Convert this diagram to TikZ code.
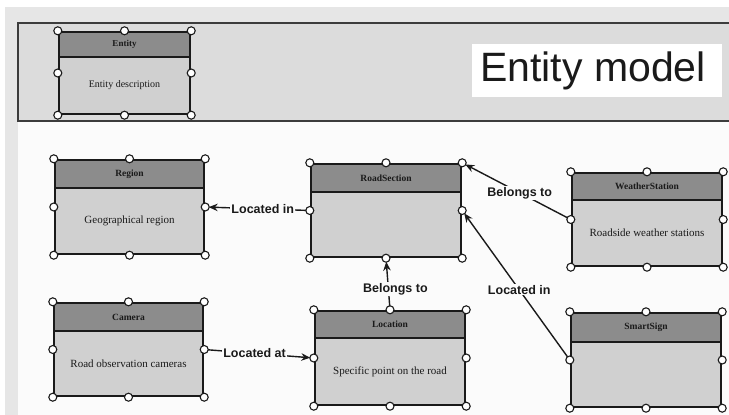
\documentclass[tikz,border=0pt]{standalone}
\usepackage{fontspec}
\setmainfont{Liberation Serif}
\setsansfont{Liberation Sans}
\usetikzlibrary{arrows.meta,fit}
\definecolor{outergray}{HTML}{E6E6E6}
\definecolor{hdrband}{HTML}{DCDCDC}
\definecolor{hdrc}{HTML}{8C8C8C}
\definecolor{bodyc}{HTML}{D0D0D0}
\definecolor{inkc}{HTML}{1A1A1A}
\definecolor{canvasc}{HTML}{FBFBFB}
\tikzset{
  boxline/.style={draw=inkc, line width=2.4pt},
  sepline/.style={draw=inkc, line width=2.2pt},
  handle/.style={draw=inkc, fill=white, line width=1.1pt},
  titlef/.style={font=\bfseries\fontsize{9.5}{11}\selectfont, text=inkc},
  descf/.style={font=\fontsize{11}{13}\selectfont, text=inkc},
  conn/.style={draw=inkc, line width=1.4pt, -{Stealth[length=9pt,width=7.5pt]}, shorten >=3.5pt},
  lbl/.style={fill=canvasc, inner sep=1pt, font=\sffamily\bfseries\fontsize{12.5}{14}\selectfont, text=inkc},
}
% #1 name, #2 x1, #3 y1, #4 x2, #5 y2, #6 separator y, #7 title, #8 description
\newcommand\mkentity[8]{%
  \fill[bodyc] (#2,#3) rectangle (#4,#5);
  \fill[hdrc] (#2,#3) rectangle (#4,#6);
  \draw[sepline] (#2,#6) -- (#4,#6);
  \node[fit={(#2,#3)(#4,#5)}, inner sep=0pt, boxline] (#1) {};
  \node[titlef] (#1-title) at ({(#2+#4)/2},{(#3+#6)/2}) {#7};
  \node[descf] (#1-desc) at ({(#2+#4)/2},{(#6+#5)/2}) {#8};
}
\newcommand\mkhandles[1]{%
  \foreach \a in {north west,north,north east,east,south east,south,south west,west}
    \draw[handle] (#1.\a) circle (4pt);
}
\begin{document}
\begin{tikzpicture}[x=1pt,y=-1pt]
\useasboundingbox (0,0) rectangle (729,415);
\fill[white] (0,0) rectangle (729,415);
\fill[outergray] (5,7) rectangle (729,415);
\fill[canvasc] (18,122) rectangle (729,415);
% header band
\fill[hdrband] (18,23) rectangle (735,121);
\draw[draw=inkc!85, line width=1.3pt] (735,23) -- (18,23) -- (18,121) -- (735,121);
\fill[white] (472,44) rectangle (722,97);
\node[font=\sffamily\fontsize{41}{41}\selectfont, text=inkc, inner sep=0pt] (modeltitle) at (593,71) {Entity model};
% legend entity
\fill[bodyc] (59,32) rectangle (190,114);
\fill[hdrc] (59,32) rectangle (190,57);
\draw[sepline] (59,57) -- (190,57);
\node[fit={(59,32)(190,114)}, inner sep=0pt, boxline] (entity) {};
\node[font=\bfseries\fontsize{9}{10}\selectfont, text=inkc] (entity-title) at (124.5,44.5) {Entity};
\node[font=\fontsize{10}{11}\selectfont, text=inkc] (entity-desc) at (124.5,85) {Entity description};
% entities
\mkentity{region}{55}{160}{204}{254}{188}{Region}{Geographical region}
\mkentity{road}{311}{164}{461}{257}{192}{RoadSection}{}
\mkentity{camera}{54}{303}{203}{396}{331}{Camera}{Road observation cameras}
\mkentity{loc}{315}{311}{465}{405}{338}{Location}{Specific point on the road}
\mkentity{weather}{572}{173}{722}{266}{200}{WeatherStation}{Roadside weather stations}
\mkentity{sign}{571}{313}{721}{407}{342}{SmartSign}{}
% connectors
\draw[conn] (road.west) -- node[lbl, pos=0.45] {Located in} (region.east);
\draw[conn] (camera.east) -- node[lbl, pos=0.46] {Located at} (loc.west);
\draw[conn] (loc.north) -- node[lbl, pos=0.4, xshift=7pt] {Belongs to} (road.south);
\draw[conn] (weather.west) -- node[lbl, pos=0.47] {Belongs to} (road.north east);
\draw[conn] (sign.west) -- node[lbl, pos=0.47] {Located in} (road.east);
% handles
\mkhandles{entity}
\mkhandles{region}
\mkhandles{road}
\mkhandles{camera}
\mkhandles{loc}
\mkhandles{weather}
\mkhandles{sign}
\end{tikzpicture}
\end{document}
